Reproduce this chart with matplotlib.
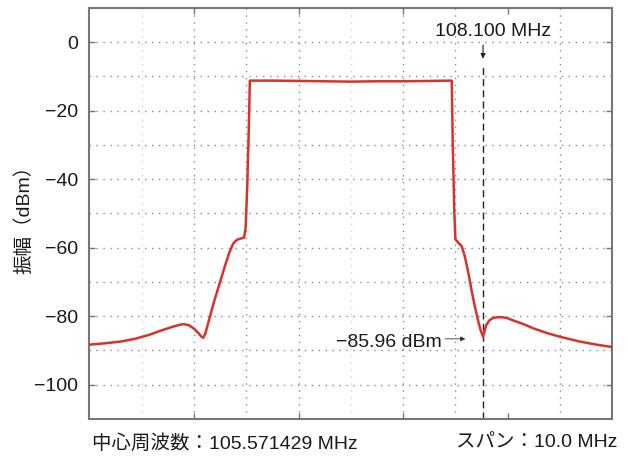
import matplotlib
matplotlib.use("Agg")
import matplotlib.pyplot as plt
import numpy as np

plt.rcParams['font.family'] = ['Liberation Sans', 'Noto Sans CJK JP', 'DejaVu Sans']

# Spectrum trace: frequency offset from centre (MHz) and level (dBm)
center_mhz = 105.571429
span_mhz = 10.0
offset_mhz = [
    -5.00, -4.70, -4.40, -4.10, -3.85, -3.65, -3.45, -3.30, -3.20, -3.10,
    -3.00, -2.92, -2.86, -2.82, -2.78, -2.70, -2.62, -2.55, -2.47, -2.40,
    -2.32, -2.25, -2.18, -2.10, -2.04, -2.01, -1.98, -1.95, -1.93,
    -1.50, -1.00, -0.50, 0.00, 0.50, 1.00, 1.50, 1.92,
    1.93, 1.95, 1.98, 2.00, 2.05, 2.12, 2.18, 2.25, 2.31, 2.37, 2.43, 2.48,
    2.529, 2.55, 2.59, 2.65, 2.72, 2.80, 2.90, 3.00, 3.10, 3.30, 3.50, 3.75,
    4.00, 4.38, 4.70, 5.00,
]
level_dbm = [
    -88.3, -87.9, -87.4, -86.5, -85.4, -84.3, -83.3, -82.6, -82.3, -82.6,
    -83.6, -84.8, -85.9, -86.3, -85.0, -80.5, -76.0, -72.5, -68.5, -65.0,
    -61.3, -58.8, -57.7, -57.3, -57.0, -54.0, -42.0, -25.0, -11.2,
    -11.2, -11.3, -11.4, -11.5, -11.4, -11.4, -11.3, -11.2,
    -11.3, -30.0, -50.0, -57.5, -58.5, -59.5, -62.5, -67.5, -72.5, -77.0, -81.0, -84.0,
    -85.96, -84.7, -82.6, -81.2, -80.5, -80.3, -80.3, -80.6, -81.2, -82.3, -83.6, -84.9,
    -86.0, -87.4, -88.3, -89.0,
]

marker_mhz = 108.100
marker_dbm = -85.96
y_ticks = [0, -20, -40, -60, -80, -100]

freq = center_mhz + np.array(offset_mhz)
x0, x1 = center_mhz - span_mhz / 2, center_mhz + span_mhz / 2

fig = plt.figure(figsize=(6.28, 4.57), dpi=100)
ax = fig.add_axes([0.1422, 0.0832, 0.975 - 0.1422, 0.9825 - 0.0832])
ax.set_xlim(x0, x1)
ax.set_ylim(-110, 10)

grid_kw = dict(linestyle=(0, (1, 4)), linewidth=1.0, zorder=1)
# horizontal graticule every 10 dB
for yv in range(-100, 10, 10):
    ax.axhline(yv, color='#8a8a8a', **grid_kw)
# vertical graticule, 1 MHz per division
div = span_mhz / 10
for k in range(1, 10):
    xv = x0 + k * div
    if k == 8:
        continue
    col = '#d0d0d0' if k in (1, 5) else '#8a8a8a'
    ax.axvline(xv, color=col, **grid_kw)

ax.plot(freq, level_dbm, color='#d8322a', linewidth=1.8, zorder=3,
        solid_joinstyle='round')

# marker
ax.plot([marker_mhz, marker_mhz], [-110, -7.3], color='#222222',
        linestyle=(0, (5, 3)), linewidth=1.0, zorder=2)
ax.annotate('', xy=(marker_mhz, -4.8), xytext=(marker_mhz, -0.8),
            arrowprops=dict(arrowstyle='-|>', color='#222222', lw=0.8,
                            mutation_scale=7, shrinkA=0, shrinkB=0))
ax.text(marker_mhz + 0.19, 3.0, f'{marker_mhz:.3f} MHz', ha='center',
        va='center', fontsize=14, color='#1a1a1a')
ax.annotate('', xy=(center_mhz + 2.19, -86.6), xytext=(center_mhz + 1.80, -86.6),
            arrowprops=dict(arrowstyle='-|>', color='#333333', lw=0.6,
                            mutation_scale=7, shrinkA=0, shrinkB=0))
ax.text(center_mhz + 1.74, -87.6, f'\u2212{abs(marker_dbm):.2f} dBm', ha='right',
        va='center', fontsize=14, color='#1a1a1a')

ax.set_yticks(y_ticks)
ax.set_yticklabels([f'\u2212{abs(v)}' if v < 0 else f'{v}' for v in y_ticks])
ax.set_xticks([center_mhz + o for o in (-3, -1, 1, 3)])
ax.set_xticklabels([])
ax.tick_params(axis='both', direction='in', length=4, width=1.0,
               color='#777777', top=True, right=True, labelsize=14,
               labelcolor='#1a1a1a', pad=8)
for s in ax.spines.values():
    s.set_color('#777777')
    s.set_linewidth(1.5)

fig.text(24 / 628, 1 - 215 / 457, '振幅（dBm）', rotation=90, ha='center',
         va='center', fontsize=14, color='#1a1a1a')
fig.text(92 / 628, 1 - 443 / 457, f'中心周波数：{center_mhz:.6f} MHz',
         ha='left', va='center', fontsize=14, color='#1a1a1a')
fig.text(617 / 628, 1 - 443 / 457, f'スパン：{span_mhz:.1f} MHz',
         ha='right', va='center', fontsize=14, color='#1a1a1a')

fig.savefig('out.png', dpi=100)
